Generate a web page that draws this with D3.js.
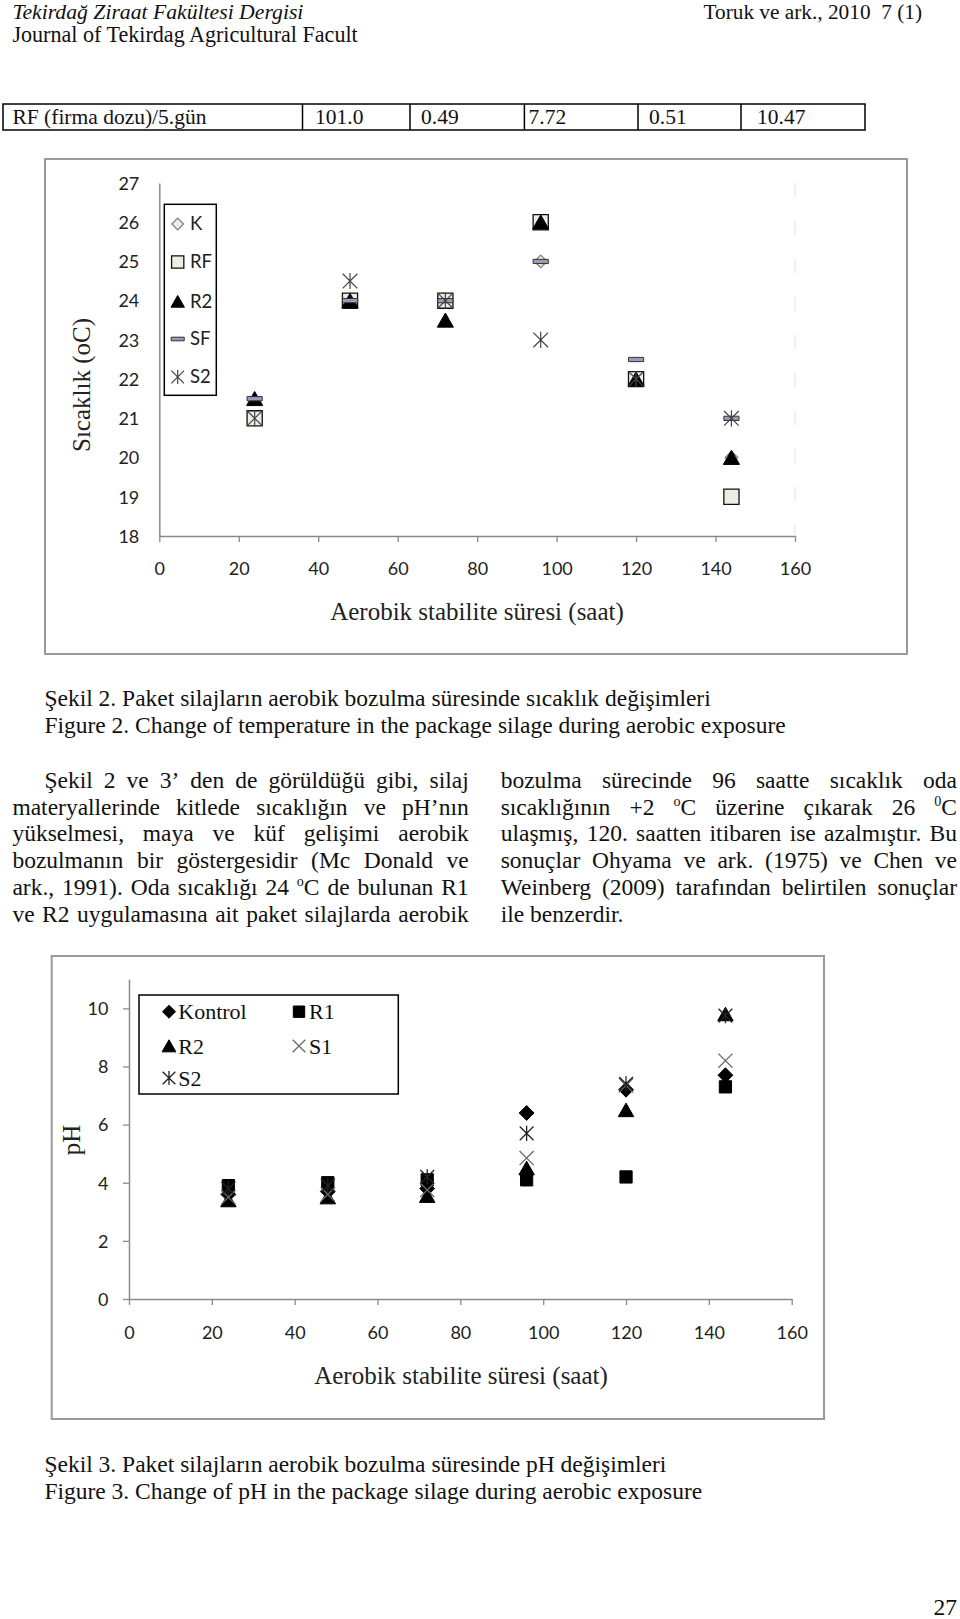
<!DOCTYPE html>
<html><head><meta charset="utf-8">
<script src="https://cdn.jsdelivr.net/npm/d3@7"></script>
<style>body{margin:0;background:#fff}svg{display:block}</style>
</head><body>
<script>
// ---------- DATA ----------
const hours = [24, 48, 72, 96, 120, 144];
const timeTicks = [0, 20, 40, 60, 80, 100, 120, 140, 160];

// Figure 2 : temperature (oC)
const tempK  = [21, 24, 24, 25, 22, 20];
const tempRF = [21, 24, 24, 26, 22, 19];
const tempR2 = [21.5, 24, 23.5, 26, 22, 20];
const tempSF = [21.5, 24, 24, 25, 22.5, 21];
const tempS2 = [21, 24.5, 24, 23, 22, 21];
const tempTicks = [18, 19, 20, 21, 22, 23, 24, 25, 26, 27];
const tempNames = ["K", "RF", "R2", "SF", "S2"];

// Figure 3 : pH
const phKontrol = [3.6, 3.7, 3.8, 6.4, 7.2, 7.7];
const phR1 = [3.9, 4.0, 4.1, 4.1, 4.2, 7.3];
const phR2 = [3.4, 3.5, 3.55, 4.5, 6.5, 9.8];
const phS1 = [3.5, 3.6, 3.75, 4.85, 7.35, 8.2];
const phS2 = [3.8, 3.9, 4.2, 5.7, 7.4, 9.75];
const phTicks = [0, 2, 4, 6, 8, 10];
const phNames = ["Kontrol", "R1", "R2", "S1", "S2"];

// Page texts
const headerLeft1 = "Tekirdağ Ziraat Fakültesi Dergisi";
const headerLeft2 = "Journal of Tekirdag Agricultural Facult";
const headerRight = "Toruk ve ark., 2010\u00a0 7 (1)";
const tableRow = ["RF (firma dozu)/5.gün", "101.0", "0.49", "7.72", "0.51", "10.47"];
const cap2tr = "Şekil 2. Paket silajların aerobik bozulma süresinde sıcaklık değişimleri";
const cap2en = "Figure 2. Change of temperature in the package silage during aerobic exposure";
const cap3tr = "Şekil 3. Paket silajların aerobik bozulma süresinde pH değişimleri";
const cap3en = "Figure 3. Change of pH in the package silage during aerobic exposure";
const paraLeft = [
  "Şekil 2 ve 3’ den de görüldüğü gibi, silaj",
  "materyallerinde kitlede sıcaklığın ve pH’nın",
  "yükselmesi, maya ve küf gelişimi aerobik",
  "bozulmanın bir göstergesidir (Mc Donald ve",
  "ark., 1991). Oda sıcaklığı 24 ^oC de bulunan R1",
  "ve R2 uygulamasına ait paket silajlarda aerobik"
];
const paraRight = [
  "bozulma sürecinde 96 saatte sıcaklık oda",
  "sıcaklığının +2 ^oC üzerine çıkarak 26 ^0C",
  "ulaşmış, 120. saatten itibaren ise azalmıştır. Bu",
  "sonuçlar Ohyama ve ark. (1975) ve Chen ve",
  "Weinberg (2009) tarafından belirtilen sonuçlar",
  "ile benzerdir."
];
const xTitle = "Aerobik stabilite süresi (saat)";
const yTitle1 = "Sıcaklık (oC)";
const yTitle2 = "pH";

// ---------- SETUP ----------
const SERIF = "'Liberation Serif','Times New Roman',serif";
const SANS = "Lato,'Open Sans',sans-serif";
const W = 960, H = 1619;
const svg = d3.select("body").append("svg").attr("width", W).attr("height", H);
svg.append("rect").attr("width", W).attr("height", H).attr("fill", "#fff");

// custom symbol types
const symDiamond = { draw(c, s) { const r = Math.sqrt(s) / 2; c.moveTo(0, -r); c.lineTo(r, 0); c.lineTo(0, r); c.lineTo(-r, 0); c.closePath(); } };
const symSquare = { draw(c, s) { const r = Math.sqrt(s) / 2; c.rect(-r, -r, 2 * r, 2 * r); } };
const symTri = { draw(c, s) { const r = Math.sqrt(s) / 2; c.moveTo(0, -r * 0.9); c.lineTo(r, r * 0.85); c.lineTo(-r, r * 0.85); c.closePath(); } };
const symDash = { draw(c, s) { const r = Math.sqrt(s) / 2; c.rect(-r, -r * 0.28, 2 * r, r * 0.56); } };
const symX = { draw(c, s) { const r = Math.sqrt(s) / 2; c.moveTo(-r, -r); c.lineTo(r, r); c.moveTo(r, -r); c.lineTo(-r, r); } };
const symStar = { draw(c, s) { const r = Math.sqrt(s) / 2; c.moveTo(-r, -r); c.lineTo(r, r); c.moveTo(r, -r); c.lineTo(-r, r); c.moveTo(0, -r * 1.1); c.lineTo(0, r * 1.1); } };

// ---------- PAGE TEXT ----------
function txt(x, y, s, o = {}) {
  const t = svg.append("text").attr("x", x).attr("y", y)
    .attr("font-family", o.family || SERIF).attr("font-size", o.size || 22)
    .attr("fill", o.fill || "#111").attr("text-anchor", o.anchor || "start");
  if (o.italic) t.attr("font-style", "italic");
  t.text(s);
  return t;
}
txt(12.4, 18.5, headerLeft1, { italic: true, size: 21.7 });
txt(12.4, 42, headerLeft2, { size: 22.1 });
txt(922, 18.5, headerRight, { size: 21.3, anchor: "end" });

// table row
const tableDiv = [3, 302.5, 410, 524.4, 638, 741, 865];
svg.append("rect").attr("x", 3).attr("y", 104).attr("width", 862).attr("height", 26)
  .attr("fill", "none").attr("stroke", "#000").attr("stroke-width", 1.5);
tableDiv.slice(1, -1).forEach(d => svg.append("line").attr("x1", d).attr("x2", d).attr("y1", 104).attr("y2", 130).attr("stroke", "#000").attr("stroke-width", 1.5));
const tableTx = [12.4, 315, 421, 528.5, 649, 757];
tableRow.forEach((s, i) => txt(tableTx[i], 124, s, { size: 21.5 }));

txt(44.4, 706, cap2tr, { size: 23.5 });
txt(44.4, 733, cap2en, { size: 23.5 });
txt(44.4, 1472, cap3tr, { size: 23.5 });
txt(44.4, 1499, cap3en, { size: 23.5 });
txt(957, 1615, "27", { size: 23.5, anchor: "end" });

// justified paragraph lines
function addWord(t, w, fs) {
  if (w.startsWith("^")) {
    t.append("tspan").attr("font-size", fs * 0.6).attr("dy", -fs * 0.38).text(w[1]);
    t.append("tspan").attr("dy", fs * 0.38).text(w.slice(2));
  } else t.text(w);
}
function justifyLine(str, x0, x1, y, fs, justify) {
  const words = str.split(" ");
  const els = words.map(w => {
    const t = svg.append("text").attr("y", y).attr("font-family", SERIF).attr("font-size", fs).attr("fill", "#111");
    addWord(t, w, fs);
    return t;
  });
  const widths = els.map(t => t.node().getComputedTextLength());
  const gap = justify ? (x1 - x0 - d3.sum(widths)) / (words.length - 1) : fs * 0.25;
  let x = x0;
  els.forEach((t, i) => { t.attr("x", x); x += widths[i] + gap; });
}
const lineY = [787.6, 814.5, 841.3, 868.2, 895, 922];
paraLeft.forEach((l, i) => justifyLine(l, i === 0 ? 44.4 : 12.4, 468.7, lineY[i], 23.5, true));
paraRight.forEach((l, i) => justifyLine(l, 500.7, 957, lineY[i], 23.5, i < paraRight.length - 1));

// ---------- CHART HELPERS ----------
function frame(x0, y0, x1, y1) {
  svg.append("rect").attr("x", x0).attr("y", y0).attr("width", x1 - x0).attr("height", y1 - y0)
    .attr("fill", "none").attr("stroke", "#9a9a9a").attr("stroke-width", 2);
}
function styleAxis(g) {
  g.selectAll("path.domain").attr("stroke", "#8a8a8a").attr("stroke-width", 1.5);
  g.selectAll(".tick line").attr("stroke", "#8a8a8a").attr("stroke-width", 1.3);
  g.selectAll("text").attr("font-family", SANS).attr("font-size", 18).attr("fill", "#222");
}
function drawSeries(g, vals, xs, ys, type, size, fill, stroke, sw) {
  g.append("g").selectAll("path").data(hours.map((h, i) => [h, vals[i]])).join("path")
    .attr("transform", d => `translate(${xs(d[0])},${ys(d[1])})`)
    .attr("d", d3.symbol().type(type).size(size))
    .attr("fill", fill).attr("stroke", stroke).attr("stroke-width", sw);
}

// ---------- FIGURE 2 ----------
frame(45, 159, 907, 654);
const x1 = d3.scaleLinear().domain([0, 160]).range([159.3, 795]);
const y1 = d3.scaleLinear().domain([18, 27]).range([536, 183]);
// faint right boundary
svg.append("line").attr("x1", x1(160)).attr("x2", x1(160)).attr("y1", y1(27)).attr("y2", y1(18))
  .attr("stroke", "#ececec").attr("stroke-width", 1.5).attr("stroke-dasharray", "14,24");
const gx1 = svg.append("g").attr("transform", `translate(0,${y1(18)})`)
  .call(d3.axisBottom(x1).tickValues(timeTicks).tickSize(6).tickSizeOuter(0));
gx1.selectAll("text").attr("y", 33).attr("dy", "0.35em");
styleAxis(gx1);
const gy1 = svg.append("g").attr("transform", `translate(${x1(0)},0)`)
  .call(d3.axisLeft(y1).tickValues(tempTicks).tickSize(0).tickSizeOuter(0).tickPadding(20));
styleAxis(gy1);
gy1.selectAll("text").attr("dy", "0.35em");
svg.append("text").attr("x", 477).attr("y", 620).attr("text-anchor", "middle")
  .attr("font-family", SERIF).attr("font-size", 25).attr("fill", "#222").text(xTitle);
svg.append("text").attr("transform", "translate(89.5,385) rotate(-90)").attr("text-anchor", "middle")
  .attr("font-family", SERIF).attr("font-size", 25).attr("fill", "#222").text(yTitle1);

const p1 = svg.append("g");
const beige = "#ededE2";
const tempStyles = [
  [tempK, symDiamond, 160, beige, "#7d7d72", 1.2],
  [tempRF, symSquare, 230, beige, "#111", 1.3],
  [tempR2, symTri, 260, "#000", "#000", 1],
  [tempSF, symDash, 230, "#9c99b9", "#333", 1],
  [tempS2, symStar, 215, "none", "#444", 1.2]
];
tempStyles.forEach(s => drawSeries(p1, s[0], x1, y1, s[1], s[2], s[3], s[4], s[5]));

// legend fig 2
svg.append("rect").attr("x", 164.3).attr("y", 204.3).attr("width", 52).attr("height", 191)
  .attr("fill", "#fff").attr("stroke", "#000").attr("stroke-width", 1.5);
const leg1Y = [224, 262, 301.5, 339, 377];
const leg1Size = [135, 150, 180, 170, 160];
tempNames.forEach((n, i) => {
  const s = tempStyles[i];
  svg.append("path").attr("transform", `translate(177.7,${leg1Y[i]})`)
    .attr("d", d3.symbol().type(s[1]).size(leg1Size[i]))
    .attr("fill", s[3]).attr("stroke", s[4]).attr("stroke-width", s[5]);
  svg.append("text").attr("x", 190).attr("y", leg1Y[i]).attr("dy", "0.35em")
    .attr("font-family", SANS).attr("font-size", 18.5).attr("fill", "#222").text(n);
});

// ---------- FIGURE 3 ----------
frame(51.7, 956, 824, 1419);
const x2 = d3.scaleLinear().domain([0, 160]).range([129, 791.7]);
const y2 = d3.scaleLinear().domain([0, 11]).range([1299, 979.3]);
const gx2 = svg.append("g").attr("transform", `translate(0,${y2(0)})`)
  .call(d3.axisBottom(x2).tickValues(timeTicks).tickSize(6).tickSizeOuter(0));
gx2.selectAll("text").attr("y", 34).attr("dy", "0.35em");
styleAxis(gx2);
const gy2 = svg.append("g").attr("transform", `translate(${x2(0)},0)`)
  .call(d3.axisLeft(y2).tickValues(phTicks).tickSize(6).tickSizeOuter(0).tickPadding(14.5));
styleAxis(gy2);
gy2.selectAll("text").attr("dy", "0.35em");
svg.append("text").attr("x", 461).attr("y", 1384).attr("text-anchor", "middle")
  .attr("font-family", SERIF).attr("font-size", 25).attr("fill", "#222").text(xTitle);
svg.append("text").attr("transform", "translate(79.5,1140) rotate(-90)").attr("text-anchor", "middle")
  .attr("font-family", SERIF).attr("font-size", 25).attr("fill", "#222").text(yTitle2);

const p2 = svg.append("g");
const phStyles = [
  [phKontrol, symDiamond, 220, "#000", "#000", 1],
  [phR1, symSquare, 150, "#000", "#000", 1],
  [phR2, symTri, 240, "#000", "#000", 1],
  [phS1, symX, 200, "none", "#6a6a6a", 1.3],
  [phS2, symStar, 190, "none", "#222", 1.3]
];
phStyles.forEach(s => drawSeries(p2, s[0], x2, y2, s[1], s[2], s[3], s[4], s[5]));

// legend fig 3
svg.append("rect").attr("x", 139).attr("y", 995).attr("width", 259.3).attr("height", 99)
  .attr("fill", "#fff").attr("stroke", "#000").attr("stroke-width", 1.5);
const leg2 = [[169, 1011.7, 178.3], [299, 1011.7, 309], [169, 1046, 178.3], [299, 1046, 309], [169, 1078, 178.3]];
const leg2Size = [170, 130, 190, 160, 160];
phNames.forEach((n, i) => {
  const s = phStyles[i], p = leg2[i];
  svg.append("path").attr("transform", `translate(${p[0]},${p[1]})`)
    .attr("d", d3.symbol().type(s[1]).size(leg2Size[i]))
    .attr("fill", s[3]).attr("stroke", s[4]).attr("stroke-width", s[5]);
  svg.append("text").attr("x", p[2]).attr("y", p[1]).attr("dy", "0.35em")
    .attr("font-family", SERIF).attr("font-size", 22).attr("fill", "#111").text(n);
});
</script>
</body></html>
